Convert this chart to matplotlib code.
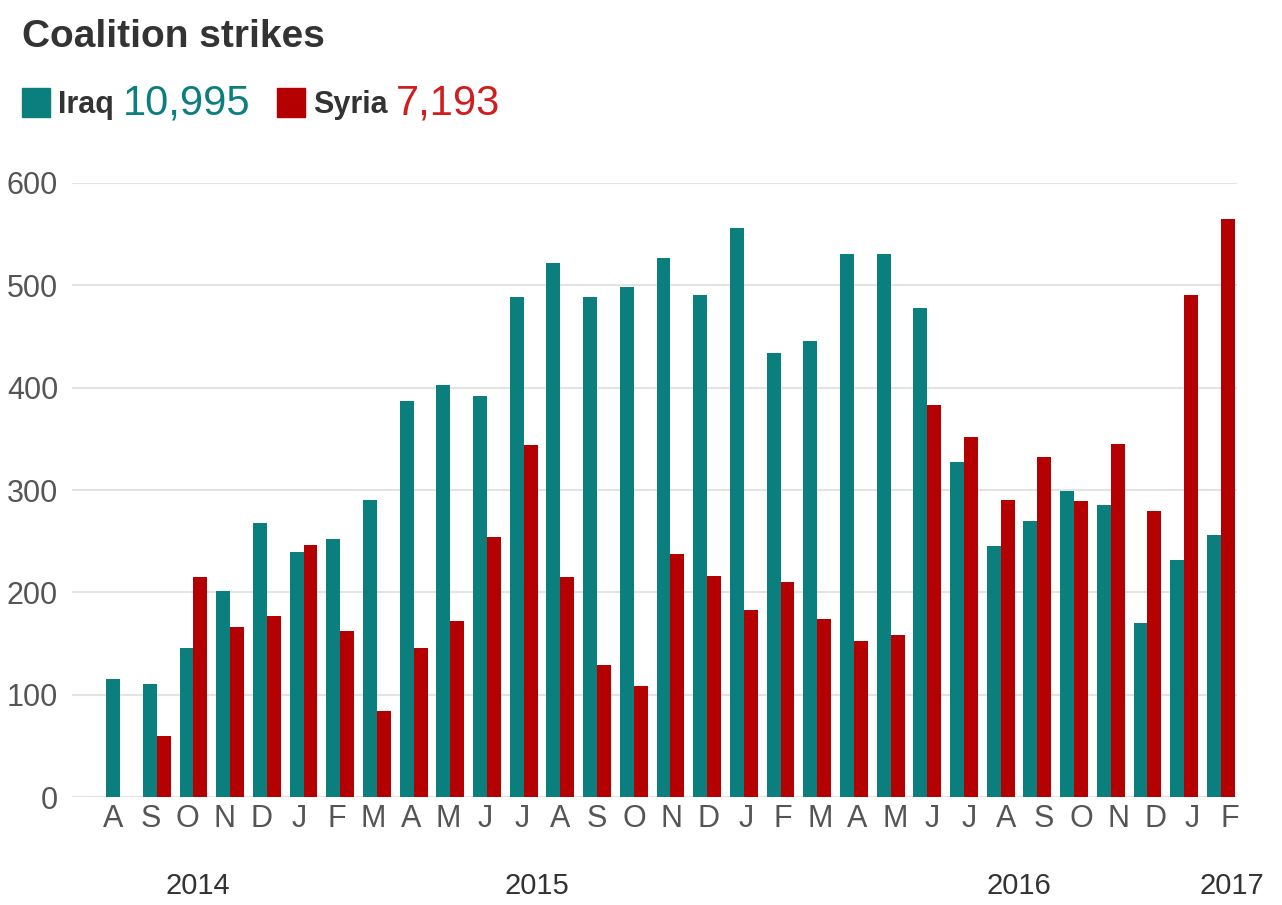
import matplotlib
matplotlib.use('Agg')
import matplotlib.pyplot as plt
from matplotlib.patches import Rectangle
import numpy as np

# Monthly coalition strikes, Aug 2014 - Feb 2017
months = ['A', 'S', 'O', 'N', 'D',
          'J', 'F', 'M', 'A', 'M', 'J', 'J', 'A', 'S', 'O', 'N', 'D',
          'J', 'F', 'M', 'A', 'M', 'J', 'J', 'A', 'S', 'O', 'N', 'D',
          'J', 'F']
iraq = [115, 110, 146, 201, 268,
        239, 252, 290, 387, 403, 392, 489, 522, 489, 498, 527, 491,
        556, 434, 446, 531, 531, 478, 327, 245, 270, 299, 285, 170,
        232, 256]
syria = [0, 60, 215, 166, 177,
         246, 162, 84, 146, 172, 254, 344, 215, 129, 108, 237, 216,
         183, 210, 174, 152, 158, 383, 352, 290, 332, 289, 345, 279,
         491, 565]
years = ['2014', '2015', '2016', '2017']
year_pos = [2.13, 11.36, 24.5, 30.3]
totals = {'Iraq': '10,995', 'Syria': '7,193'}

TEAL = '#0b7f7e'
RED = '#b40000'
RED_TXT = '#d01e1e'
GRAY = '#555555'
DARK = '#333333'

plt.rcParams['font.family'] = ['Liberation Sans', 'DejaVu Sans']

W, H = 1282, 905
fig = plt.figure(figsize=(W / 100, H / 100), dpi=100)
ax = fig.add_axes([72 / W, 1 - 797 / H, (1237 - 72) / W, (797 - 183) / H])

x = np.arange(len(months))
bw = 0.38
ax.bar(x - bw / 2, iraq, width=bw, color=TEAL, zorder=3)
ax.bar(x + bw / 2, syria, width=bw, color=RED, zorder=3)

ax.set_xlim(-1.31, 30.44)
ax.set_ylim(0, 600)
ax.set_yticks(range(0, 601, 100))
ax.yaxis.grid(True, color='#e3e3e3', linewidth=1.5, zorder=0)
ax.set_axisbelow(True)
for s in ax.spines.values():
    s.set_visible(False)
ax.tick_params(axis='both', length=0, labelsize=22, labelcolor=GRAY)
ax.tick_params(axis='y', pad=10)
ax.tick_params(axis='x', pad=5)

# month labels drift slightly wider than the bar groups in the original
tick_pos = -0.19 + x * (37.23 / 36.7)
ax.set_xticks(tick_pos)
ax.set_xticklabels(months)

for yr, xp in zip(years, year_pos):
    ax.text(xp, -0.145, yr, transform=ax.get_xaxis_transform(),
            ha='center', va='center', fontsize=21, color=DARK)

# title and legend
fig.text(22 / W, 1 - 47 / H, 'Coalition strikes', fontsize=28,
         fontweight='bold', color=DARK, va='baseline', ha='left')


def legend_item(x0, color, name, total, tcolor, total_x):
    fig.patches.append(Rectangle((x0 / W, 1 - 117 / H), 28 / W, 29 / H,
                                 transform=fig.transFigure, color=color))
    fig.text((x0 + 36) / W, 1 - 113 / H, name, fontsize=22,
             fontweight='bold', color=DARK, va='baseline', ha='left')
    fig.text(total_x / W, 1 - 115 / H, total, fontsize=30, color=tcolor,
             va='baseline', ha='left')


legend_item(22, TEAL, 'Iraq', totals['Iraq'], TEAL, 123)
legend_item(277, RED, 'Syria', totals['Syria'], RED_TXT, 396)

fig.savefig('out.png', dpi=100)
